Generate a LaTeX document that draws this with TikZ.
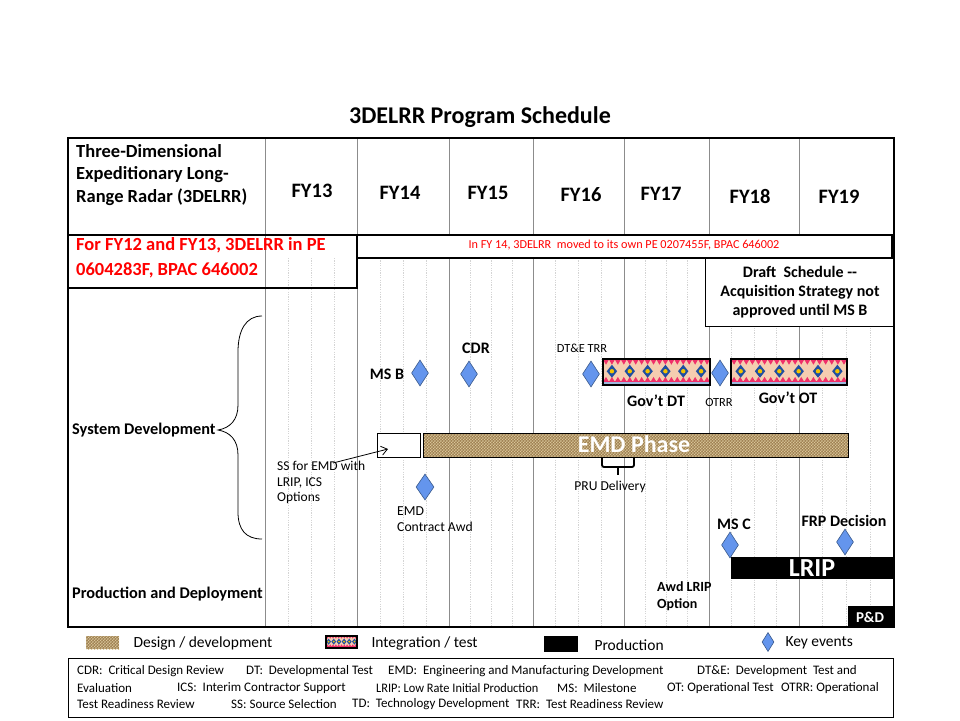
\documentclass[tikz,border=0pt]{standalone}
\usepackage{fontspec}
\setmainfont{Carlito}
\usetikzlibrary{shapes.geometric,arrows.meta,patterns}
\definecolor{keyblue}{HTML}{6495ED}
\definecolor{keyedge}{HTML}{3A5A8C}
\definecolor{redtxt}{HTML}{FF0000}
\definecolor{majorc}{HTML}{8C8C8C}
\definecolor{minorc}{HTML}{D4D4D4}
\definecolor{burlap}{HTML}{9A7A4C}
\definecolor{burlapL}{HTML}{DCC89A}
\definecolor{burlapD}{HTML}{6E5530}
\definecolor{intfill}{HTML}{F5CDB0}
\definecolor{intred}{HTML}{F0306A}
\definecolor{intblue}{HTML}{1F4FA0}
\definecolor{intyel}{HTML}{F2C200}
\definecolor{intstripe}{HTML}{9EB8DE}
\newcommand\fsz[2]{\fontsize{#1pt}{#2pt}\selectfont}
\newcommand\IntBar[5]{%
 \fill[intfill] (#1,#2) rectangle (#3,#4);
 \pgfmathsetmacro\ibh{#4-#2}
 \fill[intstripe] (#1,{#4-0.12*\ibh}) rectangle (#3,#4);
 \fill[intred] (#1,#2) rectangle (#3,{#2+0.05*\ibh});
 \fill[intred] (#1,{#4-0.12*\ibh}) rectangle (#3,{#4-0.16*\ibh});
 \pgfmathtruncatemacro\ibnt{round((#3-#1)/(0.23*\ibh))}
 \pgfmathsetmacro\ibdx{(#3-#1)/\ibnt}
 \foreach \k in {1,...,\ibnt}{
  \pgfmathsetmacro\xc{#1+(\k-0.5)*\ibdx}
  \fill[intred] ({\xc-0.45*\ibdx},{#2+0.04*\ibh}) -- ({\xc+0.45*\ibdx},{#2+0.04*\ibh}) -- (\xc,{#2+0.22*\ibh}) -- cycle;
  \fill[intred] ({\xc-0.45*\ibdx},{#4-0.14*\ibh}) -- ({\xc+0.45*\ibdx},{#4-0.14*\ibh}) -- (\xc,{#4-0.31*\ibh}) -- cycle;
 }
 \pgfmathsetmacro\ibdd{(#3-#1)/#5}
 \foreach \k in {1,...,#5}{
  \pgfmathsetmacro\xc{#1+(\k-0.5)*\ibdd}
  \pgfmathsetmacro\ym{(#2+#4)/2-0.03*\ibh}
  \fill[intblue] ({\xc-0.2*\ibh},\ym) -- (\xc,{\ym-0.25*\ibh}) -- ({\xc+0.2*\ibh},\ym) -- (\xc,{\ym+0.25*\ibh}) -- cycle;
  \fill[intyel] (\xc,\ym) circle[radius={0.085*\ibh}];
 }
 \draw[line width=1.3] (#1,#2) rectangle (#3,#4);
}
\newcommand\BurlapBar[4]{%
 \fill[burlap] (#1,#2) rectangle (#3,#4);
 \fill[pattern=crosshatch, pattern color=burlapL] (#1,#2) rectangle (#3,#4);
 \fill[pattern=dots, pattern color=burlapD] (#1,#2) rectangle (#3,#4);
}
\begin{document}
\begin{tikzpicture}[x=1pt,y=-1pt,
  majorline/.style={draw=majorc, line width=0.9},
  minorline/.style={draw=minorc, line width=0.7, dash pattern=on 1.2pt off 1.2pt},
  keyev/.style={diamond, draw=keyedge, fill=keyblue, line width=0.6, inner sep=0, minimum width=17, minimum height=26},
  fy/.style={font=\fsz{20.5}{24}\bfseries},
  lblb/.style={font=\fsz{16}{19}\bfseries},
  lbls/.style={font=\fsz{12.4}{15}},
  thickbox/.style={draw=black, line width=2},
  legtxt/.style={font=\fsz{15.5}{18}, anchor=west},
  abbr/.style={font=\fsz{13}{15}, anchor=west, inner sep=0}
]
\useasboundingbox (0,0) rectangle (960,720);
\fill[white] (0,0) rectangle (960,720);

% title
\node[font=\fsz{24}{28}\bfseries] (title) at (480,117) {3DELRR Program Schedule};

% grid
\foreach \a/\b in {265/357,357/449,449/533,533/624,624/709,709/799,799/894}{
  \foreach \q in {1,2,3}{
    \draw[minorline] ({\a+(\b-\a)*\q/4},258) -- ({\a+(\b-\a)*\q/4},627);
  }
}
\foreach \a in {265,357,449,533,624,709,799}{
  \draw[majorline] (\a,138) -- (\a,627);
}

% header
\node[font=\fsz{18.5}{22.5}\bfseries, align=left, anchor=west, inner sep=0] (hdr) at (76,175) {Three-Dimensional\\Expeditionary Long-\\Range Radar (3DELRR)};
\node[fy] (fy13) at (312,191) {FY13};
\node[fy] (fy14) at (400,193) {FY14};
\node[fy] (fy15) at (488,193) {FY15};
\node[fy] (fy16) at (581,195) {FY16};
\node[fy] (fy17) at (661,194) {FY17};
\node[fy] (fy18) at (750,196) {FY18};
\node[fy] (fy19) at (839,197) {FY19};

% funding boxes
\draw[thickbox] (68,235) rectangle (357,288);
\node[font=\fsz{18.5}{25}\bfseries, text=redtxt, align=left, anchor=west, inner sep=0] (pe1) at (76,258) {For FY12 and FY13, 3DELRR in PE\\0604283F, BPAC 646002};
\filldraw[thickbox, fill=white] (357,235) rectangle (892,258);
\node[font=\fsz{12.2}{14}, text=redtxt] (pe2) at (624,245) {In FY 14, 3DELRR\ \ moved to its own PE 0207455F, BPAC 646002};

\filldraw[draw=black, line width=1, fill=white] (705,258) rectangle (894,326);
\node[font=\fsz{16}{19}\bfseries, align=center] (draft) at (800,292) {Draft\ \ Schedule -{}-\\Acquisition Strategy not\\approved until MS B};

% row labels and brace
\node[font=\fsz{16.3}{19}\bfseries, anchor=west, inner sep=0] (sysdev) at (72,430) {System Development};
\node[font=\fsz{16.3}{19}\bfseries, anchor=west, inner sep=0] (prod) at (72,594) {Production and Deployment};
\draw[line width=0.8] (262,316) .. controls (246,316) and (238,330) .. (238,352) -- (238,405) .. controls (238,420) and (230,428) .. (218,430) .. controls (230,432) and (238,440) .. (238,455) -- (238,512) .. controls (238,530) and (246,539) .. (262,539);

% test events
\node[keyev] (msb) at (420,373) {};
\node[lblb] (msbl) at (387,374) {MS B};
\node[keyev] (cdr) at (469,374) {};
\node[lblb] (cdrl) at (476,348) {CDR};
\node[keyev] (dtetrr) at (591,374) {};
\node[lbls] (dtetrrl) at (582,348) {DT\&E TRR};
\IntBar{603}{359}{710}{385}{6}
\node[font=\fsz{16}{19}\bfseries] (govdt) at (656,401) {Gov’t DT};
\node[keyev] (otrr) at (720,373) {};
\node[lbls] (otrrl) at (719,403) {OTRR};
\IntBar{731}{359}{847}{385}{6}
\node[font=\fsz{16}{19}\bfseries] (govot) at (788,398) {Gov’t OT};

% EMD
\node[draw=black, line width=0.8, fill=white, minimum width=43, minimum height=24, inner sep=0] (ssbox) at (398.5,445) {};
\BurlapBar{423}{433}{848}{457}
\draw[line width=0.8] (423,433) rectangle (848,457);
\node[font=\fsz{24}{28}\bfseries, text=white] (emd) at (634,444) {EMD Phase};
\draw[line width=1.8, rounded corners=2] (602,458) -- (602,467) -- (634,467) -- (634,458);
\coordinate (prutop) at (618,467);
\coordinate (prutip) at (618,475);
\draw[line width=1.8] (prutop) -- (prutip);
\node[font=\fsz{13.6}{16}] (pru) at (610,487) {PRU Delivery};

\node[font=\fsz{13.5}{15.5}, align=left, anchor=north west, inner sep=0] (ss) at (277,461) {SS for EMD with\\LRIP, ICS\\Options};
\coordinate (ssfrom) at (333,463);
\coordinate (sstip) at (388,449);
\draw[line width=0.8, -{Straight Barb[length=6pt,width=9pt]}] (ssfrom) -- (sstip);

\node[keyev, minimum width=18] (emdca) at (425,487) {};
\node[font=\fsz{13.7}{16}, align=left, anchor=west, inner sep=0] (emdcal) at (397,519) {EMD\\Contract Awd};

% production
\node[keyev] (msc) at (730,545) {};
\node[lblb] (mscl) at (734,524) {MS C};
\node[keyev] (frp) at (845,542) {};
\node[lblb] (frpl) at (844,521) {FRP Decision};
\fill[black] (731,557) rectangle (893,579);
\node[font=\fsz{26}{30}\bfseries, text=white] (lrip) at (812,568) {LRIP};
\node[font=\fsz{14}{17}\bfseries, align=left, anchor=west, inner sep=0] (awd) at (657,596.5) {Awd LRIP\\Option};
\fill[black] (848,606) rectangle (893,627);
\node[font=\fsz{15}{17}\bfseries, text=white] (pd) at (870,617) {P\&D};

% frame
\draw[line width=2] (68,138) rectangle (894,627);
\draw[line width=2] (68,235) -- (894,235);

% legend
\BurlapBar{86}{636}{119}{649}
\node[legtxt] (lg1) at (130,643) {Design / development};
\IntBar{326}{636}{357}{648}{6}
\node[legtxt] (lg2) at (368,643) {Integration / test};
\fill[black] (544,636) rectangle (578,652);
\node[legtxt] (lg3) at (591,645) {Production};
\node[keyev, minimum width=12, minimum height=19] (lgd) at (768,642) {};
\node[legtxt] (lg4) at (782,643) {Key events};

% abbreviations
\draw[line width=0.9] (68,658) rectangle (893,717);
\node[abbr] (a1) at (77,671) {CDR:\ \ Critical Design Review};
\node[abbr] (a2) at (246,671) {DT:\ \ Developmental Test};
\node[abbr] (a3) at (388,671) {EMD:\ \ Engineering and Manufacturing Development};
\node[abbr] (a4) at (697,671) {DT\&E:\ \ Development\ \ Test and};
\node[abbr] (a5) at (77,688) {Evaluation};
\node[abbr] (a6) at (177,688) {ICS:\ \ Interim Contractor Support};
\node[abbr] (a7) at (376,688) {\scalebox{0.95}[1]{LRIP: Low Rate Initial Production}};
\node[abbr] (a8) at (557,688) {MS:\ \ Milestone};
\node[abbr] (a9) at (667,688) {OT: Operational Test};
\node[abbr] (a10) at (781,688) {OTRR: Operational};
\node[abbr] (a11) at (77,704) {Test Readiness Review};
\node[abbr] (a12) at (231,704) {SS: Source Selection};
\node[abbr] (a13) at (352,704) {TD:\ \ Technology Development};
\node[abbr] (a14) at (516,704) {TRR:\ \ Test Readiness Review};
\end{tikzpicture}
\end{document}
